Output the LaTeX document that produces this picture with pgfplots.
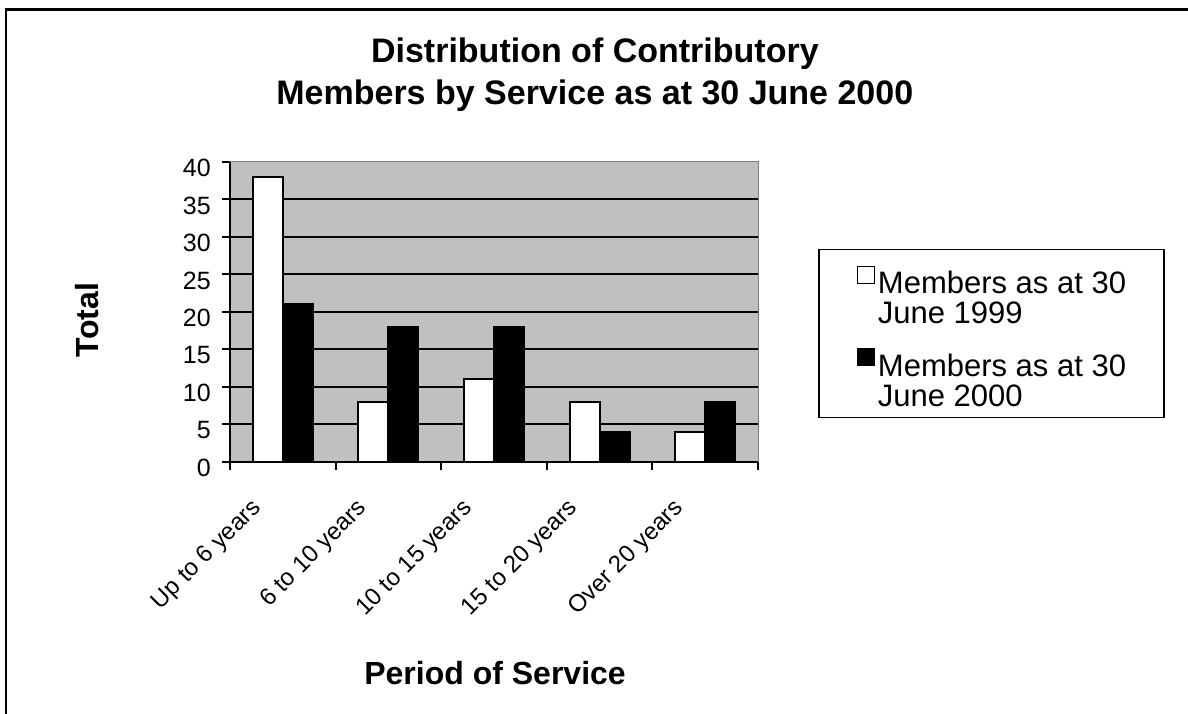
\documentclass[border=0pt]{standalone}
\usepackage{fontspec}
\setmainfont{Liberation Sans}
\usepackage{pgfplots}
\pgfplotsset{compat=1.18}
\definecolor{bggray}{RGB}{192,192,192}
\definecolor{framegray}{RGB}{128,128,128}
\begin{document}
\begin{tikzpicture}[x=1pt,y=1pt]
\path[use as bounding box] (0,0) rectangle (1188,714);
\draw[line width=2.5pt] (6,0) -- (6,704.5) -- (1188,704.5);
\begin{axis}[
  at={(230pt,252pt)}, anchor=south west,
  scale only axis, width=528pt, height=300pt,
  xmin=0, xmax=5, ymin=0, ymax=40,
  ybar=0pt, bar width=30pt,
  axis background/.style={fill=bggray, draw=framegray, line width=1pt},
  axis x line*=bottom, axis y line*=left,
  axis line style={line width=2pt, black},
  xtick={0,...,5}, x tick label as interval,
  xticklabels={Up to 6 years, 6 to 10 years, 10 to 15 years, 15 to 20 years, Over 20 years},
  ytick={0,5,...,35}, extra y ticks={40}, extra y tick style={grid=none},
  ymajorgrids, grid style={black, line width=2pt},
  tick align=outside, major tick length=8pt, tick style={black, line width=2pt},
  /pgf/number format/assume math mode=true,
  xticklabel style={inner sep=0pt, xshift=-33pt, yshift=-27pt, rotate=45, anchor=north east, font=\fontsize{24}{24}\selectfont},
  yticklabel style={inner sep=0pt, xshift=-11pt, yshift=-6pt, anchor=east, font=\fontsize{25}{25}\selectfont},
  title={Distribution of Contributory\\Members by Service as at 30 June 2000},
  title style={at={(0.691,1.27)}, anchor=center, align=center, font=\bfseries\fontsize{34}{42}\selectfont},
  xlabel={Period of Service},
  xlabel style={at={(0.502,-0.703)}, anchor=center, font=\bfseries\fontsize{32}{38}\selectfont},
  ylabel={Total},
  ylabel style={at={(-0.271,0.473)}, anchor=center, font=\bfseries\fontsize{32}{38}\selectfont},
  legend style={at={(1.114,0.71)}, anchor=north west, draw=black, line width=1.5pt,
    font=\fontsize{31}{30}\selectfont, cells={align=left, anchor=west},
    nodes={inner sep=0pt}, inner xsep=38pt, inner ysep=10pt, row sep=17pt, column sep=3pt},
  legend image code/.code={\draw[#1, line width=1pt] (0pt,9pt) rectangle (17pt,26pt);},
]
\addplot[fill=white, draw=black, line width=2pt] coordinates {(0.5,38) (1.5,8) (2.5,11) (3.5,8) (4.5,4)};
\addlegendentry{\rule{0pt}{34pt}Members as at 30\\June 1999}
\addplot[fill=black, draw=black, line width=2pt] coordinates {(0.5,21) (1.5,18) (2.5,18) (3.5,4) (4.5,8)};
\addlegendentry{\rule{0pt}{34pt}Members as at 30\\June 2000}
\end{axis}
\end{tikzpicture}
\end{document}
